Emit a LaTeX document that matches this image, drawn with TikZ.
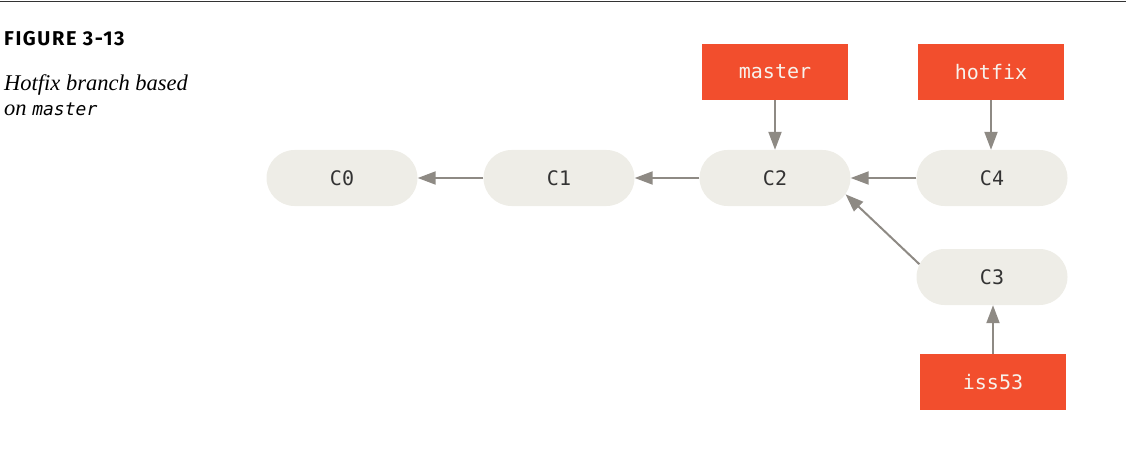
\documentclass[tikz,border=0pt]{standalone}
\usepackage{fontspec}
\setmainfont{Liberation Serif}
\setsansfont{Fira Sans}
\setmonofont{DejaVu Sans Mono}
\usetikzlibrary{arrows.meta, shapes.misc}

\definecolor{branchred}{HTML}{F24E2D}
\definecolor{commitgray}{HTML}{EEEDE7}
\definecolor{arrowgray}{HTML}{8E8A84}
\definecolor{labelgray}{HTML}{333333}
\definecolor{branchtext}{HTML}{F7F2EC}

\tikzset{
	commit/.style={rounded rectangle, fill=commitgray, minimum width=151pt, minimum height=56pt, inner sep=0pt, text=labelgray, font=\ttfamily\fontsize{20}{20}\selectfont},
	branch/.style={rectangle, fill=branchred, minimum width=146pt, minimum height=56pt, inner sep=0pt, text=branchtext, font=\ttfamily\fontsize{20}{20}\selectfont},
	parent/.style={draw=arrowgray, line width=2pt, -{Triangle[length=18pt, width=13pt]}},
	caption/.style={anchor=base west, inner sep=0pt}
}

\begin{document}
\begin{tikzpicture}[x=1pt, y=-1pt]
	\useasboundingbox (0,0) rectangle (1126,457);
	\draw[labelgray, line width=1.4pt] (0,1.5)--(1126,1.5);
	\node[caption, font=\sffamily\bfseries\fontsize{20}{20}\selectfont\addfontfeature{LetterSpace=8}] (fig) at (4,46) {FIGURE 3-13};
	\node[caption, font=\itshape\fontsize{22.5}{22.5}\selectfont] (capa) at (4,91) {Hotfix branch based};
	\node[caption, font=\itshape\fontsize{22.5}{22.5}\selectfont] (capb) at (4,116) {on {\ttfamily\fontsize{18}{18}\selectfont master}};
	
	\node[commit] (c0) at (342,178) {C0};
	\node[commit] (c1) at (559,178) {C1};
	\node[commit] (c2) at (775,178) {C2};
	\node[commit] (c4) at (992,178) {C4};
	\node[commit] (c3) at (992,277) {C3};
	
	\node[branch] (master) at (775,72) {master};
	\node[branch] (hotfix) at (991,72) {hotfix};
	\node[branch] (iss53) at (993,382) {iss53};
	
	\draw[parent] (c1.west)--(c0.east);
	\draw[parent] (c2.west)--(c1.east);
	\draw[parent] (c4.west)--(c2.east);
	\draw[parent] (c3.170)--(c2.-13);
	\draw[parent] (master.south)--(c2.north);
	\draw[parent] (hotfix.south)--(hotfix.south |- c4.north);
	\draw[parent] (iss53.north)--(iss53.north |- c3.south);
\end{tikzpicture}
\end{document}
